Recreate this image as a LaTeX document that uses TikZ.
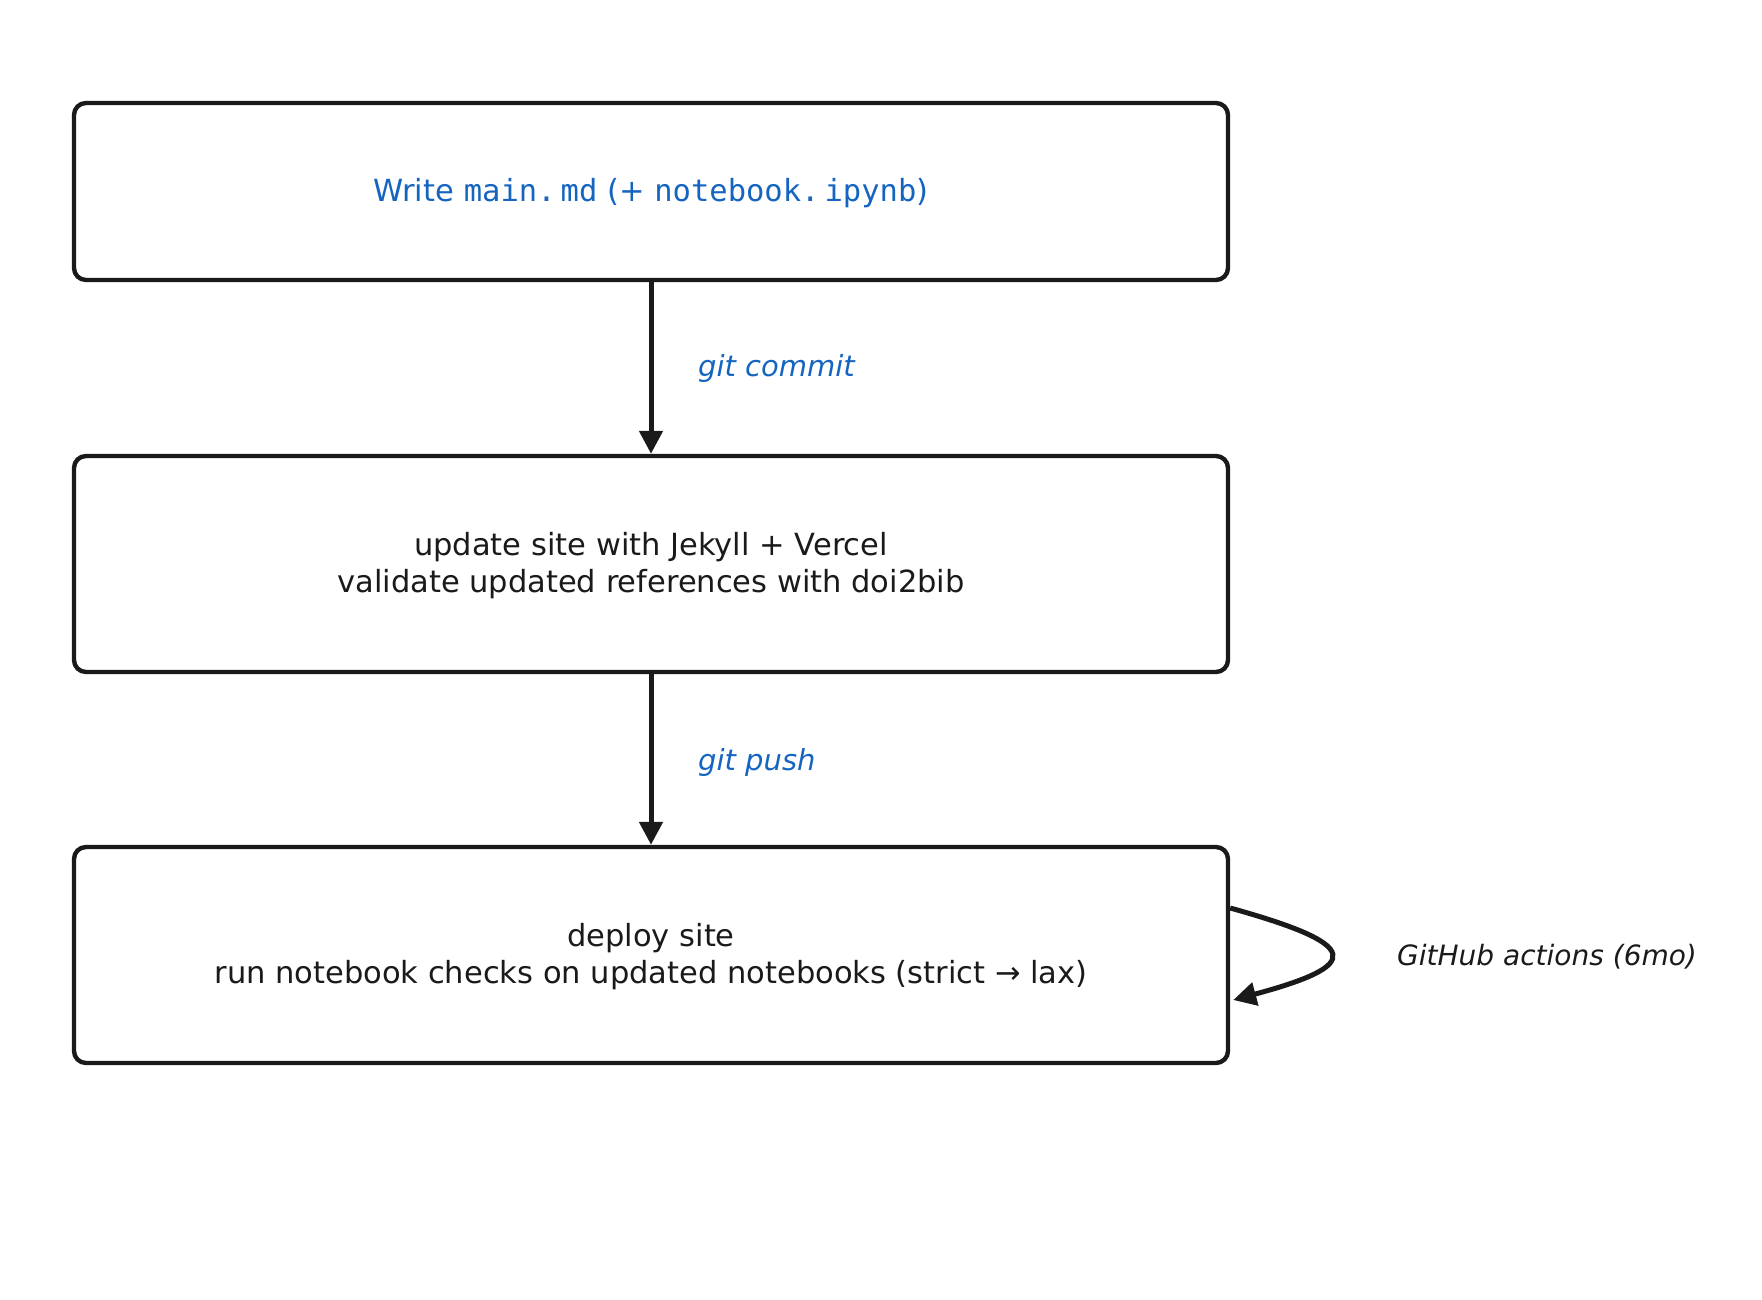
\documentclass[tikz,border=0pt]{standalone}
\usepackage{fontspec}
\setmainfont{DejaVu Sans}
\newfontfamily\monofont{DejaVu Sans Mono}
\usetikzlibrary{arrows.meta}
\definecolor{ink}{HTML}{1A1A1A}
\definecolor{blu}{HTML}{1565C0}
\newcommand{\lowered}[1]{\raisebox{-2pt}[\height][\depth]{#1}}
\tikzset{
  stagebox/.style={draw=ink, line width=4.4pt, rounded corners=12pt, fill=white,
    minimum width=1154pt, align=center, text=ink,
    font=\fontsize{30.5}{37}\selectfont},
  flowarrow/.style={draw=ink, line width=5pt, -{Triangle[width=23pt,length=23pt]}},
  edgelabel/.style={anchor=west, inner sep=0pt},
}
\begin{document}
\begin{tikzpicture}[x=1pt,y=-1pt]
\useasboundingbox (0,0) rectangle (1762,1300);
\node[stagebox, minimum height=177pt, text=blu] (b1) at (651,191.5)
  {\lowered{Write {\monofont main.\,md} (+ {\monofont notebook.\,ipynb})}};
\node[stagebox, minimum height=216pt] (b2) at (651,564)
  {\lowered{\parbox{1100pt}{\centering update site with Jekyll + Vercel\\validate updated references with doi2bib}}};
\node[stagebox, minimum height=216pt] (b3) at (651,955)
  {\lowered{\parbox{1100pt}{\centering deploy site\\run notebook checks on updated notebooks (strict → lax)}}};
\draw[flowarrow] (b1.south) -- (b2.north);
\draw[flowarrow] (b2.south) -- (b3.north);
\node[edgelabel, text=blu, font=\fontsize{29}{35}\selectfont\itshape] (l1) at (698,368) {git commit};
\node[edgelabel, text=blu, font=\fontsize{29}{35}\selectfont\itshape] (l2) at (698,762) {git push};
\node[edgelabel, text=ink, font=\fontsize{28}{34}\selectfont\itshape] (l3) at (1397,957) {GitHub actions (6mo)};
\coordinate (s) at ([yshift=47pt]b3.east);
\coordinate (e) at ([yshift=-45pt,xshift=3pt]b3.east);
\draw[draw=ink, line width=5pt, -{Triangle[width=23pt,length=23pt]}]
  (s) .. controls (1363,945) and (1363,965) .. (e);
\end{tikzpicture}
\end{document}
